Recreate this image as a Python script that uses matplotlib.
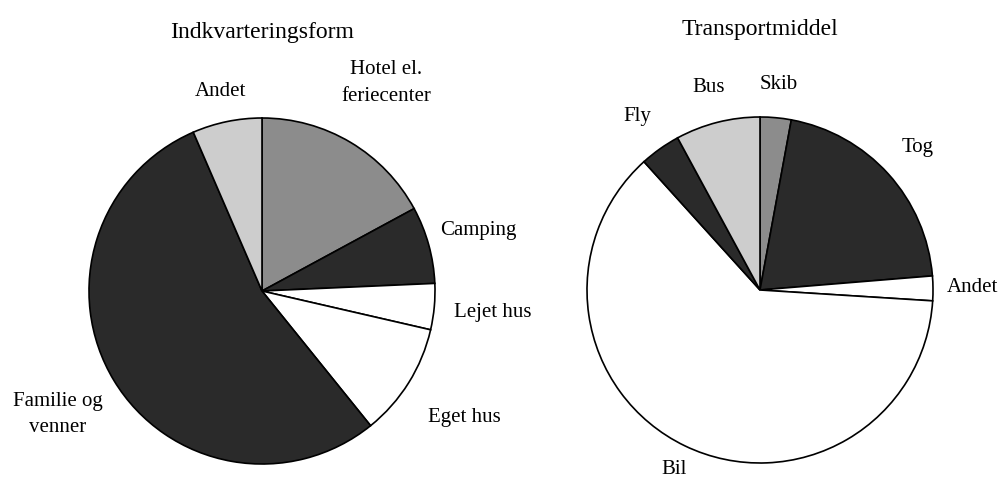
import matplotlib
matplotlib.use("Agg")
import matplotlib.pyplot as plt
import numpy as np

plt.rcParams['font.family'] = ['Liberation Serif', 'DejaVu Serif']

# Indkvarteringsform (shares, %), clockwise from 12 o'clock
bolig_labels = ['Hotel el.\nferiecenter', 'Camping', 'Lejet hus', 'Eget hus',
                'Familie og\nvenner', 'Andet']
bolig_values = [17.1, 7.2, 4.3, 10.6, 54.3, 6.5]

# Transportmiddel (shares, %), clockwise from 12 o'clock
transport_labels = ['Skib', 'Tog', 'Andet', 'Bil', 'Fly', 'Bus']
transport_values = [2.9, 20.8, 2.3, 62.3, 3.8, 7.9]

bolig_colors = ['#8c8c8c', '#2a2a2a', 'white', 'white', '#2a2a2a', '#cdcdcd']
bolig_dist = [1.40, 1.30, 1.34, 1.38, 1.38, 1.18]

transport_colors = ['#8c8c8c', '#2a2a2a', 'white', 'white', '#2a2a2a', '#cdcdcd']
transport_dist = [1.19, 1.23, 1.23, 1.15, 1.23, 1.21]

W, H = 1006, 484
R = 173.0  # pie radius in pixels

fig = plt.figure(figsize=(W / 100, H / 100), dpi=100)


def draw_pie(cx, cy, values, labels, colors, dists, title, title_y):
    # axes placed so that unit radius == R pixels, centre at (cx, cy) (top-left origin)
    x0, x1 = -1.5, 1.5
    y0, y1 = -1.1, 1.6
    left = (cx + x0 * R) / W
    bottom = (H - cy + y0 * R) / H
    ax = fig.add_axes([left, bottom, (x1 - x0) * R / W, (y1 - y0) * R / H])
    wedges, _ = ax.pie(values, colors=colors, startangle=90, counterclock=False,
                       wedgeprops=dict(edgecolor='black', linewidth=1.2))
    ax.set_xlim(x0, x1)
    ax.set_ylim(y0, y1)
    ax.set_aspect('equal')
    ax.axis('off')
    for w, lab, d in zip(wedges, labels, dists):
        ang = np.deg2rad((w.theta1 + w.theta2) / 2)
        ax.text(d * np.cos(ang), d * np.sin(ang), lab, ha='center', va='center',
                fontsize=15, linespacing=1.55)
    fig.text(cx / W, 1 - title_y / H, title, ha='center', va='center', fontsize=17)


draw_pie(262, 291, bolig_values, bolig_labels, bolig_colors, bolig_dist,
         'Indkvarteringsform', 33)
draw_pie(760, 290, transport_values, transport_labels, transport_colors, transport_dist,
         'Transportmiddel', 30)

fig.savefig('out.png', dpi=100)
